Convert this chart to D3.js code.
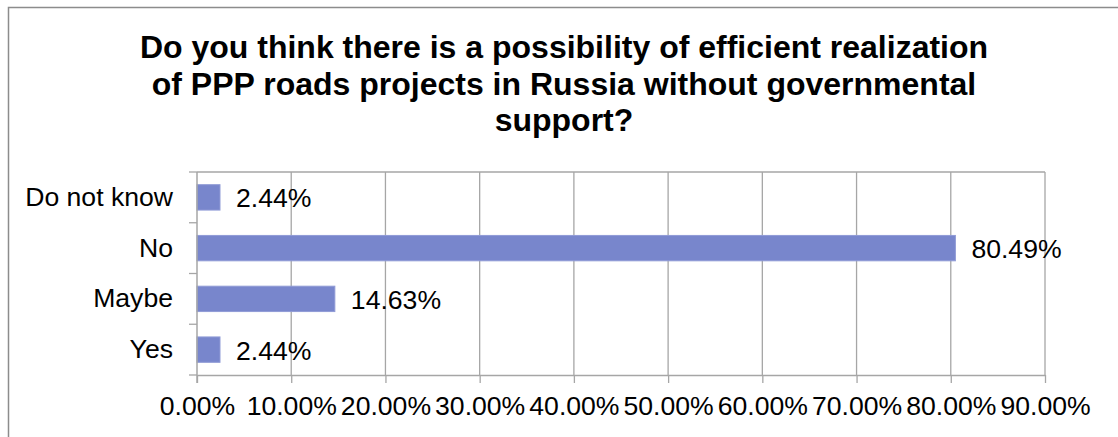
<!DOCTYPE html>
<html>
<head>
<meta charset="utf-8">
<script src="https://cdn.jsdelivr.net/npm/d3@7"></script>
<style>
  html, body { margin: 0; padding: 0; background: #fff; }
  svg { display: block; }
  text { font-family: "Liberation Sans", Arial, sans-serif; fill: #000; }
</style>
</head>
<body>
<svg id="chart" width="1118" height="437"></svg>
<script>
// Survey answers (share of respondents), listed top to bottom
const categories = ["Do not know", "No", "Maybe", "Yes"];
const shares = [0.0244, 0.8049, 0.1463, 0.0244];
const valueLabels = ["2.44%", "80.49%", "14.63%", "2.44%"];
const xTicks = [0, 0.1, 0.2, 0.3, 0.4, 0.5, 0.6, 0.7, 0.8, 0.9];
const titleLines = [
  "Do you think there is a possibility of efficient realization",
  "of PPP roads projects in Russia without governmental",
  "support?"
];

const svg = d3.select("#chart");
const plot = { left: 197, right: 1045, top: 172, bottom: 375 };
const gridColor = "#a6a6a6";

// Outer chart frame (runs off the right and bottom edges)
svg.append("rect")
  .attr("x", 8.5).attr("y", 7.5)
  .attr("width", 1200).attr("height", 600)
  .attr("fill", "none").attr("stroke", "#8c8c8c").attr("stroke-width", 1.5);

// Title
svg.append("g").selectAll("text")
  .data(titleLines)
  .join("text")
  .attr("x", 564)
  .attr("y", (d, i) => 58 + i * 36.5)
  .attr("text-anchor", "middle")
  .style("font-size", "32px")
  .style("font-weight", "bold")
  .text(d => d);

const x = d3.scaleLinear().domain([0, 0.9]).range([plot.left, plot.right]);
const y = d3.scaleBand().domain(categories).range([plot.top, plot.bottom]).paddingInner(0.5).paddingOuter(0.25);
const yBand = d3.scaleBand().domain(categories).range([plot.top, plot.bottom]);

// Vertical gridlines
svg.append("g").selectAll("line")
  .data(xTicks.slice(1))
  .join("line")
  .attr("x1", d => x(d)).attr("x2", d => x(d))
  .attr("y1", plot.top).attr("y2", plot.bottom)
  .attr("stroke", gridColor).attr("stroke-width", 1.3);

// Top border of the plot area
svg.append("line")
  .attr("x1", plot.left).attr("x2", plot.right)
  .attr("y1", plot.top).attr("y2", plot.top)
  .attr("stroke", gridColor).attr("stroke-width", 1.3);

// Bars
svg.append("g").selectAll("rect")
  .data(categories)
  .join("rect")
  .attr("x", x(0))
  .attr("y", d => y(d))
  .attr("width", (d, i) => x(shares[i]) - x(0))
  .attr("height", y.bandwidth())
  .attr("fill", "#7886cc")
  .attr("stroke", "#909bd6")
  .attr("stroke-width", 1);

// Value labels
svg.append("g").selectAll("text")
  .data(categories)
  .join("text")
  .attr("x", (d, i) => x(shares[i]) + 16)
  .attr("y", d => yBand(d) + yBand.bandwidth() / 2 + 10)
  .style("font-size", "26.6px")
  .text((d, i) => valueLabels[i]);

// X axis
const xAxis = svg.append("g")
  .attr("transform", `translate(0,${plot.bottom})`)
  .call(d3.axisBottom(x).tickValues(xTicks).tickSize(8).tickSizeOuter(0)
    .tickFormat(d3.format(".2%")));
xAxis.select(".domain").attr("stroke", gridColor).attr("stroke-width", 1.5);
xAxis.selectAll(".tick line").attr("stroke", gridColor).attr("stroke-width", 1.3);
xAxis.selectAll(".tick text")
  .attr("y", 40).attr("dy", 0)
  .style("font-size", "26.6px")
  .style("font-family", "'Liberation Sans', Arial, sans-serif")
  .attr("fill", "#000");

// Y axis: tick marks sit on band boundaries
const yAxis = svg.append("g").attr("transform", `translate(${plot.left},0)`);
yAxis.append("line")
  .attr("x1", 0).attr("x2", 0).attr("y1", plot.top).attr("y2", plot.bottom + 8)
  .attr("stroke", gridColor).attr("stroke-width", 1.5);
yAxis.selectAll("line.tick")
  .data(categories.concat([null]))
  .join("line")
  .attr("class", "tick")
  .attr("x1", -8).attr("x2", 0)
  .attr("y1", (d, i) => plot.top + i * yBand.step())
  .attr("y2", (d, i) => plot.top + i * yBand.step())
  .attr("stroke", gridColor).attr("stroke-width", 1.3);
yAxis.selectAll("text")
  .data(categories)
  .join("text")
  .attr("x", -24)
  .attr("y", d => yBand(d) + yBand.bandwidth() / 2 + 8.5)
  .attr("text-anchor", "end")
  .style("font-size", "26.6px")
  .text(d => d);
</script>
</body>
</html>
